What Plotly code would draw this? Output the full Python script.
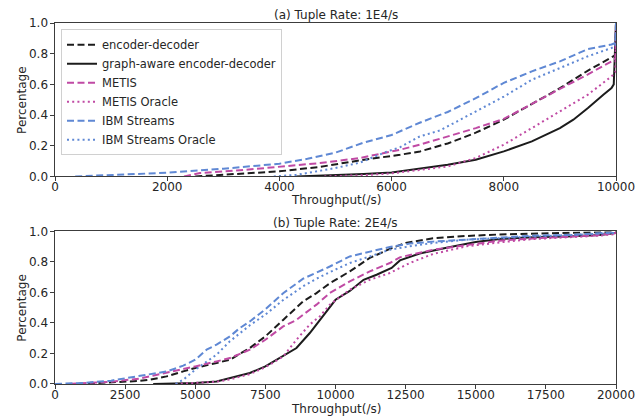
import plotly.graph_objects as go
from plotly.subplots import make_subplots

# ---------------- data: (a) Tuple Rate 1E4/s ----------------
a_ed_x = [2500, 3300, 4000, 4724, 5437, 6150, 6506, 7000, 7500, 8000, 8500, 9000, 9500, 9920, 9990, 10000]
a_ed_y = [0, 0.015, 0.033, 0.062, 0.105, 0.141, 0.163, 0.215, 0.285, 0.37, 0.475, 0.575, 0.69, 0.775, 0.79, 1.0]

a_ga_x = [4300, 5000, 5500, 6000, 6506, 7000, 7500, 8000, 8500, 9000, 9240, 9500, 9774, 9920, 9960, 10000]
a_ga_y = [0, 0.008, 0.015, 0.025, 0.05, 0.076, 0.109, 0.163, 0.228, 0.315, 0.37, 0.446, 0.533, 0.576, 0.6, 1.0]

a_metis_x = [2300, 2585, 3300, 4000, 4724, 5437, 6150, 6506, 7000, 7500, 8000, 8500, 9000, 9500, 9920, 9990, 10000]
a_metis_y = [0, 0.022, 0.04, 0.061, 0.087, 0.12, 0.174, 0.207, 0.26, 0.315, 0.375, 0.475, 0.57, 0.665, 0.75, 0.77, 1.0]

a_metis_or_x = [4800, 5500, 6000, 6506, 7000, 7500, 8000, 8500, 9000, 9500, 9920, 9990, 10000]
a_metis_or_y = [0, 0.008, 0.02, 0.043, 0.065, 0.12, 0.207, 0.315, 0.424, 0.533, 0.652, 0.68, 1.0]

a_ibm_x = [360, 1000, 2000, 3000, 3300, 4000, 4500, 5000, 5500, 6000, 6500, 7000, 7500, 8000, 8500, 9000, 9500, 9700, 9920, 9990, 10000]
a_ibm_y = [0, 0.008, 0.024, 0.05, 0.06, 0.083, 0.115, 0.155, 0.22, 0.27, 0.35, 0.42, 0.51, 0.61, 0.685, 0.75, 0.83, 0.843, 0.86, 0.87, 1.0]

a_ibm_or_x = [3900, 4300, 4724, 5000, 5437, 5900, 6150, 6500, 6863, 7000, 7500, 8000, 8500, 9000, 9500, 9920, 9990, 10000]
a_ibm_or_y = [0, 0.01, 0.037, 0.055, 0.09, 0.16, 0.19, 0.26, 0.30, 0.326, 0.425, 0.52, 0.63, 0.707, 0.783, 0.837, 0.85, 1.0]

# ---------------- data: (b) Tuple Rate 2E4/s ----------------
b_ed_x = [800, 2000, 3000, 3384, 3978, 4572, 5000, 5760, 6235, 6947, 7500, 8134, 8846, 9322, 9797, 10510, 11222, 11935, 12500, 13478, 14666, 15853, 17040, 18228, 20000]
b_ed_y = [0, 0.01, 0.02, 0.028, 0.05, 0.083, 0.105, 0.138, 0.159, 0.236, 0.312, 0.42, 0.541, 0.596, 0.66, 0.738, 0.826, 0.885, 0.925, 0.955, 0.97, 0.98, 0.985, 0.99, 0.998]

b_ga_x = [3500, 4572, 5000, 5760, 6235, 6947, 7500, 8134, 8609, 9084, 9441, 9797, 10000, 10510, 11000, 11464, 12000, 12297, 13000, 14000, 15000, 15853, 17040, 18228, 19415, 20000]
b_ga_y = [0, 0.003, 0.007, 0.017, 0.039, 0.072, 0.115, 0.181, 0.236, 0.334, 0.42, 0.508, 0.552, 0.61, 0.683, 0.716, 0.76, 0.81, 0.855, 0.895, 0.93, 0.95, 0.961, 0.967, 0.976, 0.99]

b_metis_x = [500, 2000, 3000, 3384, 3978, 4572, 5000, 5760, 6235, 6947, 7500, 8134, 8609, 8846, 9322, 9797, 10510, 11222, 11935, 12291, 13478, 14666, 15853, 17040, 18228, 19415, 20000]
b_metis_y = [0, 0.015, 0.035, 0.05, 0.072, 0.094, 0.115, 0.148, 0.17, 0.225, 0.29, 0.377, 0.42, 0.454, 0.52, 0.596, 0.672, 0.738, 0.793, 0.83, 0.88, 0.91, 0.939, 0.954, 0.965, 0.976, 0.99]

b_metis_or_x = [4300, 5000, 5760, 6235, 6947, 7500, 8134, 8609, 9084, 9441, 9797, 10510, 11222, 11935, 12291, 12647, 13478, 14666, 15853, 17040, 18228, 19415, 20000]
b_metis_or_y = [0, 0.005, 0.015, 0.03, 0.065, 0.11, 0.18, 0.29, 0.39, 0.443, 0.52, 0.618, 0.683, 0.727, 0.76, 0.793, 0.852, 0.902, 0.928, 0.95, 0.961, 0.972, 0.983]

b_ibm_x = [0, 1000, 2000, 3000, 3384, 4000, 4572, 5000, 5404, 5760, 6235, 6591, 6947, 7500, 8134, 8846, 9322, 9797, 10510, 11222, 11935, 12647, 13478, 14666, 15853, 17040, 18228, 19415, 20000]
b_ibm_y = [0, 0.007, 0.022, 0.05, 0.061, 0.083, 0.12, 0.159, 0.225, 0.258, 0.312, 0.367, 0.41, 0.49, 0.595, 0.69, 0.73, 0.77, 0.836, 0.869, 0.898, 0.92, 0.933, 0.946, 0.961, 0.972, 0.976, 0.985, 0.994]

b_ibm_or_x = [4300, 4572, 5000, 5404, 5760, 6235, 6591, 6947, 7500, 8134, 8846, 9322, 9797, 10510, 11222, 11935, 12647, 13478, 14666, 15853, 17040, 18228, 19415, 20000]
b_ibm_or_y = [0, 0.028, 0.094, 0.148, 0.192, 0.28, 0.33, 0.385, 0.455, 0.55, 0.64, 0.69, 0.733, 0.793, 0.836, 0.88, 0.902, 0.924, 0.946, 0.956, 0.965, 0.976, 0.985, 0.99]

names = ["encoder-decoder", "graph-aware encoder-decoder", "METIS",
         "METIS Oracle", "IBM Streams", "IBM Streams Oracle"]
a_series = [(a_ed_x, a_ed_y), (a_ga_x, a_ga_y), (a_metis_x, a_metis_y),
            (a_metis_or_x, a_metis_or_y), (a_ibm_x, a_ibm_y), (a_ibm_or_x, a_ibm_or_y)]
b_series = [(b_ed_x, b_ed_y), (b_ga_x, b_ga_y), (b_metis_x, b_metis_y),
            (b_metis_or_x, b_metis_or_y), (b_ibm_x, b_ibm_y), (b_ibm_or_x, b_ibm_or_y)]

a_xticks = [0, 2000, 4000, 6000, 8000, 10000]
b_xticks = [0, 2500, 5000, 7500, 10000, 12500, 15000, 17500, 20000]
y_ticks = [0.0, 0.2, 0.4, 0.6, 0.8, 1.0]

BLACK = "#1c1c1c"
MAG = "#c04aa4"
BLUE = "#5f88d4"
DASH = "7px,3.5px"
DOT = "2px,3.2px"
styles = [(BLACK, DASH), (BLACK, "solid"), (MAG, DASH), (MAG, DOT), (BLUE, DASH), (BLUE, DOT)]

FONT = "DejaVu Sans"
TXT = "#262626"
AX = "#3c3c3c"
FS = 12

fig = make_subplots(rows=2, cols=1, vertical_spacing=0.15)

for i, (name, (col, dash)) in enumerate(zip(names, styles)):
    x, y = a_series[i]
    fig.add_trace(go.Scatter(x=x, y=y, mode="lines", name=name,
                             line=dict(color=col, dash=dash, width=2),
                             showlegend=True), row=1, col=1)
for i, (name, (col, dash)) in enumerate(zip(names, styles)):
    x, y = b_series[i]
    fig.add_trace(go.Scatter(x=x, y=y, mode="lines", name=name,
                             line=dict(color=col, dash=dash, width=2),
                             showlegend=False), row=2, col=1)

axis_common = dict(showline=True, mirror=True, linecolor=AX, linewidth=1.1,
                   ticks="outside", ticklen=3.5, tickwidth=1, tickcolor=AX,
                   showgrid=False, zeroline=False, automargin=False,
                   tickfont=dict(family=FONT, size=FS, color=TXT))

fig.update_layout(
    template="none",
    width=636, height=417,
    margin=dict(l=55, r=20, t=23, b=33, autoexpand=False),
    paper_bgcolor="white", plot_bgcolor="white",
    font=dict(family=FONT, size=FS, color=TXT),
    xaxis=dict(domain=[0, 1], range=[0, 10000], tickvals=a_xticks,
               ticktext=[str(v) for v in a_xticks], ticklabelstandoff=-4, **axis_common),
    yaxis=dict(domain=[0.575, 1.0], range=[0, 1], tickvals=y_ticks,
               ticktext=[f"{v:.1f}" for v in y_ticks], **axis_common),
    xaxis2=dict(domain=[0, 1], range=[0, 20000], tickvals=b_xticks,
                ticktext=[str(v) for v in b_xticks], ticklabelstandoff=-4, **axis_common),
    yaxis2=dict(domain=[0.0, 0.4227], range=[0, 1], tickvals=y_ticks,
                ticktext=[f"{v:.1f}" for v in y_ticks], **axis_common),
    legend=dict(x=0.0107, y=0.983, xanchor="left", yanchor="top",
                bgcolor="rgba(255,255,255,0.85)", bordercolor="#d0d0d0",
                borderwidth=1, font=dict(family=FONT, size=11.5, color=TXT),
                itemwidth=30, tracegroupgap=0),
    showlegend=True,
)

ann = dict(xref="paper", yref="paper", showarrow=False,
           font=dict(family=FONT, size=FS, color=TXT))
fig.add_annotation(text="(a) Tuple Rate: 1E4/s", x=0.5, y=1.0, yanchor="middle",
                   yshift=8, **ann)
fig.add_annotation(text="(b) Tuple Rate: 2E4/s", x=0.5, y=0.4227, yanchor="middle",
                   yshift=8, **ann)
fig.add_annotation(text="Throughput(/s)", x=0.5, y=0.5105, yanchor="middle", **ann)
fig.add_annotation(text="Throughput(/s)", x=0.5, y=-0.0705, yanchor="middle", **ann)
fig.add_annotation(text="Percentage", x=-0.0588, y=0.787, xanchor="center",
                   yanchor="middle", textangle=-90, **ann)
fig.add_annotation(text="Percentage", x=-0.0588, y=0.2115, xanchor="center",
                   yanchor="middle", textangle=-90, **ann)

fig.write_html("out.html", config={"displayModeBar": False},
               post_script="document.body.style.margin='0px';document.body.style.padding='0px';")
